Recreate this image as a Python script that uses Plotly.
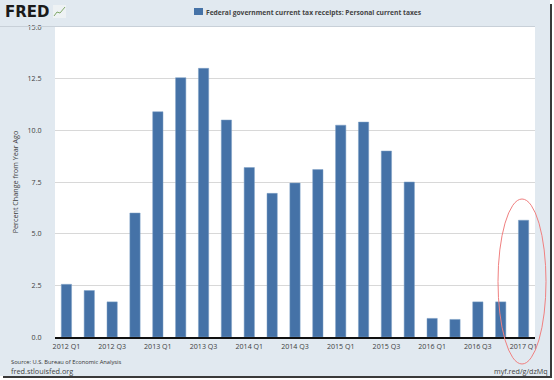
import plotly.graph_objects as go

categories = ["2012 Q1","2012 Q2","2012 Q3","2012 Q4","2013 Q1","2013 Q2","2013 Q3","2013 Q4",
              "2014 Q1","2014 Q2","2014 Q3","2014 Q4","2015 Q1","2015 Q2","2015 Q3","2015 Q4",
              "2016 Q1","2016 Q2","2016 Q3","2016 Q4","2017 Q1"]
values = [2.55,2.25,1.7,6.0,10.9,12.55,13.0,10.5,8.2,6.95,7.45,8.1,10.25,10.4,9.0,7.5,0.9,0.85,1.7,1.7,5.65]
tick_labels = categories[::2]
y_ticks = [0,2.5,5,7.5,10,12.5,15]
series_name = "Federal government current tax receipts: Personal current taxes"

W, H = 554, 380
L, R, T, B = 55, 535, 27, 337
FONT = "Open Sans"
TXT = "#404040"
def px(x): return (x-L)/(R-L)
def py(y): return (B-y)/(B-T)

fig = go.Figure(go.Bar(x=categories, y=values, name=series_name, width=0.45,
                       marker=dict(color="#4572a7", line=dict(color="#7fa0c6", width=0.5)),
                       showlegend=False))

def rect(x0,y0,x1,y1,color):
    return dict(type="rect", xref="paper", yref="paper", x0=px(x0), x1=px(x1), y0=py(y0), y1=py(y1),
                fillcolor=color, line=dict(width=0), layer="above")

shapes = [
    rect(550,0,554,380,"#ffffff"),
    rect(0,376,554,380,"#ffffff"),
    rect(550,4,552,378,"#3a3a3a"),
    rect(3,376,552,378,"#3a3a3a"),
    dict(type="line", xref="paper", yref="paper", x0=px(0), x1=px(535), y0=py(26.5), y1=py(26.5),
         line=dict(color="#c8d0d8", width=1)),
    rect(194,8,203,15,"#4572a7"),
    rect(53,5,66,18,"#eef2f4"),
    dict(type="path", xref="paper", yref="paper",
         path=f"M {px(54)} {py(16)} L {px(57)} {py(12)} L {px(60)} {py(13)} L {px(65)} {py(7)}",
         line=dict(color="#7fa86a", width=1)),
    dict(type="circle", xref="paper", yref="paper", x0=px(498), x1=px(546), y0=py(199), y1=py(364),
         line=dict(color="#f08080", width=1), fillcolor="rgba(0,0,0,0)", layer="above"),
]

def note(x,y,text,size,color=TXT,anchor="left",family=FONT):
    return dict(xref="paper", yref="paper", x=px(x), y=py(y), text=text, showarrow=False,
                xanchor=anchor, yanchor="middle", borderpad=0, borderwidth=0,
                font=dict(family=family,size=size,color=color))

annotations = [
    note(5,12,"<b>FRED</b>",15,"#1a1a1a",family="DejaVu Sans"),
    note(206,12,"<b>"+series_name+"</b>",6.7,"#444444"),
    note(11,361.5,"Source: U.S. Bureau of Economic Analysis",5.75,"#333333"),
    note(11,371,"fred.stlouisfed.org",7.3,"#444444"),
    note(548,371,"myf.red/g/dzMq",7.2,"#444444",anchor="right"),
]

fig.update_layout(
    width=W, height=H, autosize=False,
    margin=dict(l=L, r=W-R, t=T, b=H-B, pad=0),
    paper_bgcolor="#e1e9f0", plot_bgcolor="#ffffff",
    shapes=shapes, annotations=annotations, showlegend=False, bargap=0.55,
    xaxis=dict(type="category", categoryorder="array", categoryarray=categories,
               tickmode="array", tickvals=tick_labels, ticktext=tick_labels,
               range=[-0.5,20.5], showgrid=False, showline=True, linecolor="#111111", linewidth=2,
               ticks="outside", ticklen=1, tickcolor="rgba(0,0,0,0)", tickangle=0,
               tickfont=dict(family=FONT,size=7.1,color=TXT)),
    yaxis=dict(range=[0,15], tickmode="array", tickvals=y_ticks, ticktext=[f"{v:.1f}" for v in y_ticks],
               gridcolor="#d8d8d8", gridwidth=1, zeroline=False, showline=False,
               ticks="outside", ticklen=11, tickcolor="rgba(0,0,0,0)",
               tickfont=dict(family=FONT,size=7.1,color=TXT),
               title=dict(text="Percent Change from Year Ago", font=dict(family=FONT,size=7.2,color=TXT), standoff=8)),
)
fig.write_html("out.html", config={"displayModeBar":False},
               post_script="document.body.style.margin='0';")
